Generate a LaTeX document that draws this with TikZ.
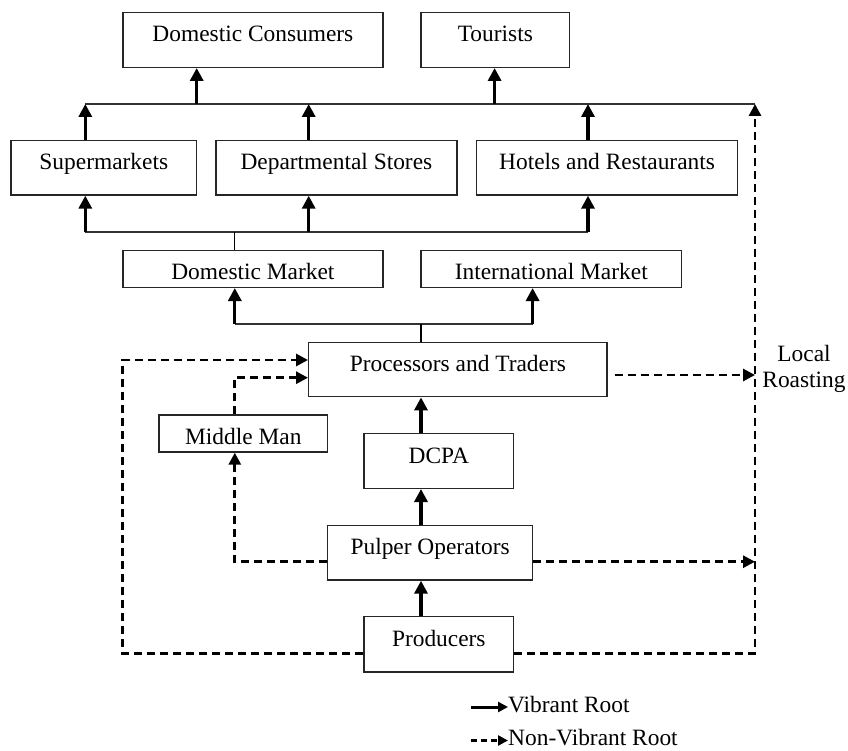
\documentclass[tikz,border=0pt]{standalone}
\usepackage{fontspec}
\setmainfont{Liberation Serif}
\usetikzlibrary{arrows.meta}
\begin{document}
\begin{tikzpicture}[x=1pt,y=-1pt,
  box/.style={draw=black!85, line width=1.4pt, inner sep=0pt, font=\fontsize{23.4}{28}\selectfont, text height=16pt, text depth=12pt},
  sbox/.style={box, text height=21pt, text depth=0pt},
  varrow/.style={line width=3.3pt, -{Triangle[length=13pt,width=13pt]}},
  darrow/.style={line width=2.9pt, dash pattern=on 8pt off 5pt, -{Triangle[length=12pt,width=12pt]}},
  bus/.style={line width=2.3pt, draw=black!80},
  stub/.style={line width=1.2pt},
  lbl/.style={font=\fontsize{23.4}{26.5}\selectfont, inner sep=0pt}
]
\useasboundingbox (0,0) rectangle (848,751);

% boxes
\node[box, minimum width=260pt, minimum height=55pt] (dc) at (252.9,39.8) {Domestic Consumers};
\node[box, minimum width=148.6pt, minimum height=55pt] (tr) at (495.3,39.8) {Tourists};
\node[box, minimum width=185.8pt, minimum height=54.3pt] (sm) at (103.8,167.85) {Supermarkets};
\node[box, minimum width=241.2pt, minimum height=54.3pt] (ds) at (336.4,167.85) {Departmental Stores};
\node[box, minimum width=260.9pt, minimum height=54.3pt] (hr) at (607.05,167.85) {Hotels and Restaurants};
\node[sbox, minimum width=260.2pt, minimum height=36.6pt] (dm) at (252.9,269) {Domestic Market};
\node[sbox, minimum width=260.5pt, minimum height=36.6pt] (im) at (551.25,269) {International Market};
\node[box, minimum width=298.3pt, minimum height=54.4pt] (pt) at (457.85,369.5) {Processors and Traders};
\node[sbox, minimum width=168.7pt, minimum height=37pt] (mm) at (243.35,433.5) {Middle Man};
\node[box, minimum width=149.6pt, minimum height=54.6pt] (dcpa) at (438.8,461) {DCPA};
\node[box, minimum width=204.9pt, minimum height=54.7pt] (pu) at (430.15,552.65) {Pulper Operators};
\node[box, minimum width=149.6pt, minimum height=55.3pt] (pr) at (438.8,644.35) {Producers};
\node[lbl, align=center] (lr) at (804,369) {Local\\Roasting};

% top bus
\coordinate (t1) at (85.3,104);
\coordinate (t2) at (196.7,104);
\coordinate (t3) at (308.7,104);
\coordinate (t4) at (494.6,104);
\coordinate (t5) at (588,104);
\coordinate (t6) at (755,104);
\draw[bus] (t1) -- (t6);
\draw[varrow] (sm.north -| t1) -- (t1);
\draw[varrow] (ds.north -| t3) -- (t3);
\draw[varrow] (hr.north -| t5) -- (t5);
\draw[varrow] (t2) -- (dc.south -| t2);
\draw[varrow] (t4) -- (tr.south -| t4);

% lower bus
\coordinate (b0) at (234.8,232.3);
\coordinate (b1) at (85.3,232.3);
\coordinate (b2) at (308.7,232.3);
\coordinate (b3) at (588,232.3);
\draw[bus] (b1) -- (b3);
\draw[varrow] (b1) -- (sm.south -| b1);
\draw[varrow] (b2) -- (ds.south -| b2);
\draw[varrow] (b3) -- (hr.south -| b3);
\draw[stub] (dm.north -| b0) -- (b0);

% market bus
\coordinate (m0) at (421,324);
\coordinate (m1) at (234.8,324);
\coordinate (m2) at (532.6,324);
\draw[bus] (m1) -- (m2);
\draw[varrow] (m1) -- (dm.south -| m1);
\draw[varrow] (m2) -- (im.south -| m2);
\draw[stub] (pt.north -| m0) -- (m0);

% vertical solid chain
\coordinate (vx) at (421,0);
\draw[varrow] (dcpa.north -| vx) -- (pt.south -| vx);
\draw[varrow] (pu.north -| vx) -- (dcpa.south -| vx);
\draw[varrow] (pr.north -| vx) -- (pu.south -| vx);

% dashed routes
\coordinate (pl) at (122.8,653.3);
\coordinate (ptl) at (122.8,360);
\coordinate (prr) at (755,653.3);
\draw[darrow] (pr.west |- pl) -- (pl) -- (ptl) -- (pt.west |- ptl);
\draw[darrow] (pr.east |- prr) -- (prr) -- (t6);

\coordinate (pul) at (234.8,561.7);
\coordinate (pur) at (755,561.7);
\draw[darrow] (pu.west |- pul) -- (pul) -- (mm.south -| pul);
\draw[darrow] (pu.east |- pur) -- (pur);

\coordinate (mmt) at (234.8,377.7);
\draw[darrow] (mm.north -| mmt) -- (mmt) -- (pt.west |- mmt);

\coordinate (ptr) at (755,375);
\draw[darrow, shorten <=7pt] (pt.east |- ptr) -- (ptr);

% legend
\node[lbl, anchor=base west] (lv) at (508,712) {Vibrant Root};
\node[lbl, anchor=base west] (ln) at (508,745.5) {Non-Vibrant Root};
\coordinate (lvs) at (470.6,707);
\coordinate (lns) at (470.6,740.5);
\draw[line width=3pt, -{Triangle[length=10pt,width=10pt]}] (lvs) -- (lv.west |- lvs);
\draw[line width=3pt, dash pattern=on 6pt off 4pt, -{Triangle[length=10pt,width=10pt]}] (lns) -- (ln.west |- lns);
\end{tikzpicture}
\end{document}
